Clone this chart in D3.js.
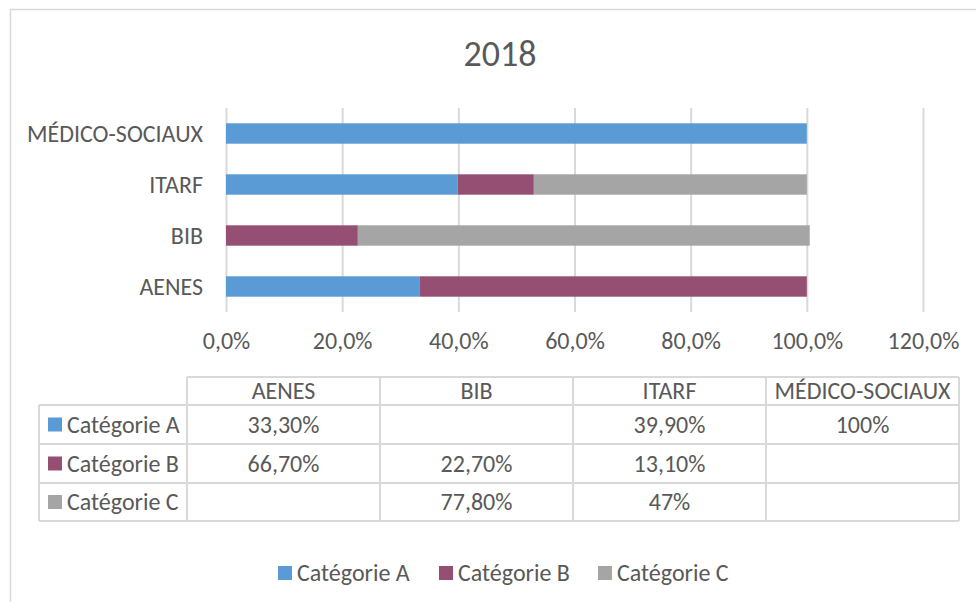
<!DOCTYPE html>
<html>
<head>
<meta charset="utf-8">
<script src="https://cdn.jsdelivr.net/npm/d3@7"></script>
<style>
  body { margin: 0; background: #fff; }
  svg text { font-family: Carlito, Calibri, Lato, sans-serif; fill: #595959; }
</style>
</head>
<body>
<svg id="chart"></svg>
<script>
const categories = ["AENES", "BIB", "ITARF", "MÉDICO-SOCIAUX"];
const seriesNames = ["Catégorie A", "Catégorie B", "Catégorie C"];
const catA = [33.3, null, 39.9, 100];
const catB = [66.7, 22.7, 13.1, null];
const catC = [null, 77.8, 47, null];
const tickValues = [0, 20, 40, 60, 80, 100, 120];
const colors = ["#5B9BD5", "#954F72", "#A5A5A5"];

const width = 976;
const height = 602;
const fontSize = 24;

const svg = d3.select("#chart")
  .attr("width", width)
  .attr("height", height);

// outer chart frame
svg.append("rect")
  .attr("x", 10.5).attr("y", 9.5)
  .attr("width", 1000).attr("height", 700)
  .attr("fill", "#fff")
  .attr("stroke", "#D9D9D9")
  .attr("stroke-width", 1.5);

svg.append("text")
  .attr("x", 500).attr("y", 66)
  .attr("text-anchor", "middle")
  .style("font-size", "36px")
  .text("2018");

const xScale = d3.scaleLinear().domain([0, 120]).range([226, 923]);
const yScale = d3.scaleBand()
  .domain(categories.slice().reverse())
  .range([108, 312])
  .paddingInner(0.6)
  .paddingOuter(0.3);

// gridlines
const grid = svg.append("g")
  .attr("transform", "translate(0, 312)")
  .call(d3.axisBottom(xScale).tickValues(tickValues).tickSize(-204).tickFormat(""));
grid.select(".domain").remove();
grid.selectAll("line").attr("stroke", "#D9D9D9").attr("stroke-width", 2);

// stacked bars
const rows = categories.map((c, i) => ({ cat: c, a: catA[i] || 0, b: catB[i] || 0, c: catC[i] || 0 }));
const stacked = d3.stack().keys(["a", "b", "c"])(rows);

svg.append("g").selectAll("g")
  .data(stacked)
  .enter()
  .append("g")
  .attr("fill", (d, i) => colors[i])
  .selectAll("rect")
  .data(d => d.filter(s => s[1] > s[0]))
  .enter()
  .append("rect")
  .attr("x", d => xScale(d[0]))
  .attr("width", d => xScale(d[1]) - xScale(d[0]))
  .attr("y", d => yScale(d.data.cat))
  .attr("height", yScale.bandwidth());

// category labels
svg.append("g").selectAll("text")
  .data(categories)
  .enter()
  .append("text")
  .attr("x", 203)
  .attr("y", d => yScale(d) + yScale.bandwidth() / 2)
  .attr("dy", "0.35em")
  .attr("text-anchor", "end")
  .style("font-size", fontSize + "px")
  .text(d => d);

// x axis tick labels
const xAxis = svg.append("g")
  .attr("transform", "translate(0, 312)")
  .call(d3.axisBottom(xScale).tickValues(tickValues).tickSize(0).tickPadding(0)
    .tickFormat(v => v.toFixed(1).replace(".", ",") + "%"));
xAxis.select(".domain").remove();
xAxis.selectAll("text")
  .attr("y", 37)
  .attr("dy", 0)
  .style("font-size", fontSize + "px")
  .style("font-family", null)
  .attr("fill", "#595959");

// data table
const fmt = v => v == null ? "" : (Number.isInteger(v) ? v + "%" : v.toFixed(2).replace(".", ",") + "%");
const colX = [187, 380, 573, 766, 959];
const rowY = [377, 405, 444, 483, 521];
const labelLeft = 39;
const seriesVals = [catA, catB, catC];
const table = svg.append("g").attr("stroke", "#D9D9D9").attr("stroke-width", 2);

// horizontal lines
table.append("line").attr("x1", colX[0]).attr("x2", colX[4]).attr("y1", rowY[0]).attr("y2", rowY[0]);
rowY.slice(1).forEach(y => {
  table.append("line").attr("x1", labelLeft).attr("x2", colX[4]).attr("y1", y).attr("y2", y);
});
// vertical lines
colX.forEach(x => {
  table.append("line").attr("x1", x).attr("x2", x).attr("y1", rowY[0]).attr("y2", rowY[4]);
});
table.append("line").attr("x1", labelLeft).attr("x2", labelLeft).attr("y1", rowY[1]).attr("y2", rowY[4]);

const tText = svg.append("g").style("font-size", fontSize + "px");
categories.forEach((c, i) => {
  tText.append("text")
    .attr("x", (colX[i] + colX[i + 1]) / 2)
    .attr("y", (rowY[0] + rowY[1]) / 2)
    .attr("dy", "0.35em")
    .attr("text-anchor", "middle")
    .text(c);
});
seriesNames.forEach((s, r) => {
  const cy = (rowY[r + 1] + rowY[r + 2]) / 2;
  tText.append("rect")
    .attr("x", 48).attr("y", cy - 7)
    .attr("width", 14).attr("height", 14)
    .attr("fill", colors[r]);
  tText.append("text")
    .attr("x", 67).attr("y", cy)
    .attr("dy", "0.35em")
    .text(s);
  seriesVals[r].forEach((v, i) => {
    tText.append("text")
      .attr("x", (colX[i] + colX[i + 1]) / 2)
      .attr("y", cy)
      .attr("dy", "0.35em")
      .attr("text-anchor", "middle")
      .text(fmt(v));
  });
});

// legend
const legendX = [278, 439, 598];
const legend = svg.append("g").style("font-size", fontSize + "px");
seriesNames.forEach((s, i) => {
  legend.append("rect")
    .attr("x", legendX[i]).attr("y", 566)
    .attr("width", 14).attr("height", 14)
    .attr("fill", colors[i]);
  legend.append("text")
    .attr("x", legendX[i] + 19).attr("y", 573)
    .attr("dy", "0.35em")
    .text(s);
});
</script>
</body>
</html>
